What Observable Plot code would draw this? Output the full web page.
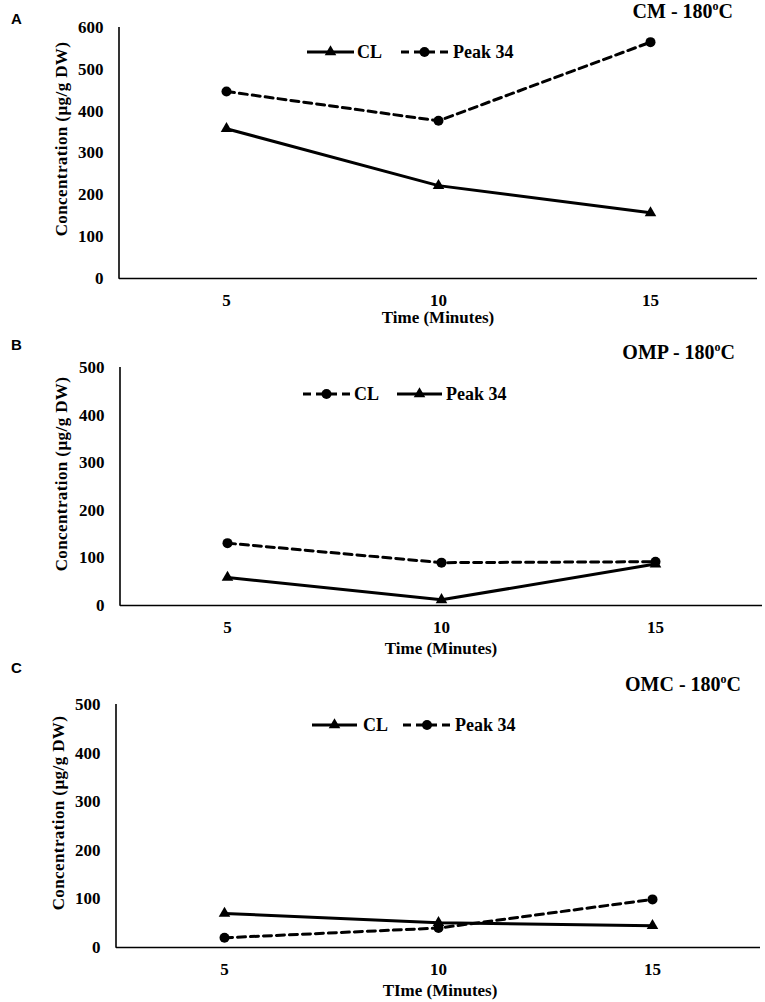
<!DOCTYPE html>
<html>
<head>
<meta charset="utf-8">
<script src="https://cdn.jsdelivr.net/npm/d3@7"></script>
<script src="https://cdn.jsdelivr.net/npm/@observablehq/plot@0.6"></script>
<style>
  html, body { margin: 0; padding: 0; background: #fff; }
  #wrap { position: relative; width: 765px; height: 1002px; overflow: hidden; background: #fff; }
  #wrap > svg, #wrap > figure { position: absolute; left: 0; margin: 0; }
</style>
</head>
<body>
<div id="wrap"></div>
<script>
// ---- data ----
const times = [5, 10, 15];
const yTicksA = [0, 100, 200, 300, 400, 500, 600];
const yTicksBC = [0, 100, 200, 300, 400, 500];

// Panel A: CM - 180ºC
const cmCL = [358, 222, 157];
const cmPeak34 = [447, 377, 565];
// Panel B: OMP - 180ºC
const ompCL = [131, 90, 92];
const ompPeak34 = [59, 12, 87];
// Panel C: OMC - 180ºC
const omcCL = [70, 51, 45];
const omcPeak34 = [20, 40, 99];

const panelLetters = ["A", "B", "C"];
const panelTitles = ["CM - 180", "OMP - 180", "OMC - 180"];
const xLabels = ["Time (Minutes)", "Time (Minutes)", "TIme (Minutes)"];
const yLabel = "Concentration (µg/g DW)";
const seriesNames = ["CL", "Peak 34"];

const SERIF = "'Liberation Serif', 'Times New Roman', serif";
const wrap = document.getElementById("wrap");

const panels = [
  { top: 0, height: 330, left: 119, right: 757, y0: 278, yTop: 27, ymax: 600, ticks: yTicksA,
    series: [
      { name: seriesNames[0], values: cmCL, dashed: false, symbol: "triangle" },
      { name: seriesNames[1], values: cmPeak34, dashed: true, symbol: "circle" }
    ],
    title: { x: 733, y: 18 }, letter: { x: 11, y: 24 }, ylab: { x: 61, y: 139 }, xlab: { x: 438, y: 317 },
    legend: { y: 52, items: [{ x1: 307, x2: 354, tx: 357 }, { x1: 401, x2: 448, tx: 453 }] }
  },
  { top: 330, height: 330, left: 120, right: 762, y0: 605, yTop: 367, ymax: 500, ticks: yTicksBC,
    series: [
      { name: seriesNames[0], values: ompCL, dashed: true, symbol: "circle" },
      { name: seriesNames[1], values: ompPeak34, dashed: false, symbol: "triangle" }
    ],
    title: { x: 735, y: 359 }, letter: { x: 11, y: 350 }, ylab: { x: 61, y: 474 }, xlab: { x: 441, y: 648 },
    legend: { y: 394, items: [{ x1: 303, x2: 350, tx: 354 }, { x1: 397, x2: 442, tx: 446 }] }
  },
  { top: 660, height: 342, left: 116, right: 760, y0: 947, yTop: 704, ymax: 500, ticks: yTicksBC,
    series: [
      { name: seriesNames[0], values: omcCL, dashed: false, symbol: "triangle" },
      { name: seriesNames[1], values: omcPeak34, dashed: true, symbol: "circle" }
    ],
    title: { x: 741, y: 691 }, letter: { x: 11, y: 673 }, ylab: { x: 58, y: 813 }, xlab: { x: 440, y: 990 },
    legend: { y: 725, items: [{ x1: 312, x2: 357, tx: 363 }, { x1: 403, x2: 451, tx: 455 }] }
  }
];

const DASH = "8,5";
const LW = 3;
const R = { circle: 5, triangle: 4.3 };

panels.forEach((p, pi) => {
  const marks = [
    Plot.axisX({ tickSize: 0, tickPadding: 15, label: null, fontSize: 17, fontWeight: "bold" }),
    Plot.axisY({ ticks: p.ticks, tickSize: 0, tickPadding: 16, label: null, fontSize: 17, fontWeight: "bold", tickFormat: d3.format("d") }),
    Plot.ruleY([0], { stroke: "#000", strokeWidth: 1.6 }),
    (index, scales, values, dims) => {
      const g = d3.create("svg:line")
        .attr("x1", dims.marginLeft).attr("x2", dims.marginLeft)
        .attr("y1", dims.marginTop).attr("y2", dims.height - dims.marginBottom + 0.8)
        .attr("stroke", "#000").attr("stroke-width", 1.6);
      return g.node();
    }
  ];
  p.series.forEach(s => {
    const rows = times.map((t, i) => ({ t, v: s.values[i], series: s.name }));
    marks.push(Plot.line(rows, { x: "t", y: "v", stroke: "#000", strokeWidth: LW,
      strokeDasharray: s.dashed ? DASH : null, strokeLinejoin: "miter" }));
    marks.push(Plot.dot(rows, { x: "t", y: "v", symbol: s.symbol, r: R[s.symbol], fill: "#000", stroke: "none" }));
  });
  const chart = Plot.plot({
    width: 765,
    height: p.height,
    marginLeft: p.left,
    marginRight: 765 - p.right,
    marginTop: p.yTop - p.top,
    marginBottom: p.top + p.height - p.y0,
    style: { fontFamily: SERIF, fontWeight: "bold", fontSize: "17px", color: "#000", background: "transparent", overflow: "visible" },
    x: { type: "point", domain: times, padding: 0.5, label: null },
    y: { domain: [0, p.ymax], label: null },
    marks
  });
  chart.style.position = "absolute";
  chart.style.left = "0px";
  chart.style.top = p.top + "px";
  wrap.appendChild(chart);
});

// ---- overlay: titles, letters, axis labels, legends ----
const ov = d3.select(wrap).append("svg")
  .attr("width", 765).attr("height", 1002)
  .style("position", "absolute").style("left", 0).style("top", 0)
  .style("pointer-events", "none");

panels.forEach((p, pi) => {
  // panel letter
  ov.append("text").attr("x", p.letter.x).attr("y", p.letter.y)
    .attr("font-family", "'Liberation Sans', Arial, sans-serif").attr("font-weight", "bold").attr("font-size", 15)
    .text(panelLetters[pi]);
  // title with superscript o
  const t = ov.append("text").attr("x", p.title.x).attr("y", p.title.y).attr("text-anchor", "end")
    .attr("font-family", SERIF).attr("font-weight", "bold").attr("font-size", 20);
  t.append("tspan").text(panelTitles[pi]);
  t.append("tspan").attr("font-size", 12).attr("dy", -8).text("o");
  t.append("tspan").attr("dy", 8).text("C");
  // y label
  ov.append("text").attr("transform", `translate(${p.ylab.x},${p.ylab.y}) rotate(-90)`)
    .attr("text-anchor", "middle").attr("dy", "0.35em")
    .attr("font-family", SERIF).attr("font-weight", "bold").attr("font-size", 17)
    .attr("letter-spacing", 0.4)
    .text(yLabel);
  // x label
  ov.append("text").attr("x", p.xlab.x).attr("y", p.xlab.y).attr("text-anchor", "middle").attr("dy", "0.35em")
    .attr("font-family", SERIF).attr("font-weight", "bold").attr("font-size", 17)
    .text(xLabels[pi]);
  // legend
  p.series.forEach((s, si) => {
    const it = p.legend.items[si];
    const y = p.legend.y;
    ov.append("line").attr("x1", it.x1).attr("x2", it.x2).attr("y1", y).attr("y2", y)
      .attr("stroke", "#000").attr("stroke-width", LW).attr("stroke-dasharray", s.dashed ? DASH : null);
    const cx = (it.x1 + it.x2) / 2;
    const sym = s.symbol === "circle" ? d3.symbolCircle : d3.symbolTriangle;
    ov.append("path").attr("transform", `translate(${cx},${y})`)
      .attr("d", d3.symbol(sym, Math.PI * R[s.symbol] * R[s.symbol])()).attr("fill", "#000");
    ov.append("text").attr("x", it.tx).attr("y", y).attr("dy", "0.35em")
      .attr("font-family", SERIF).attr("font-weight", "bold").attr("font-size", 18)
      .text(s.name);
  });
});
</script>
</body>
</html>
